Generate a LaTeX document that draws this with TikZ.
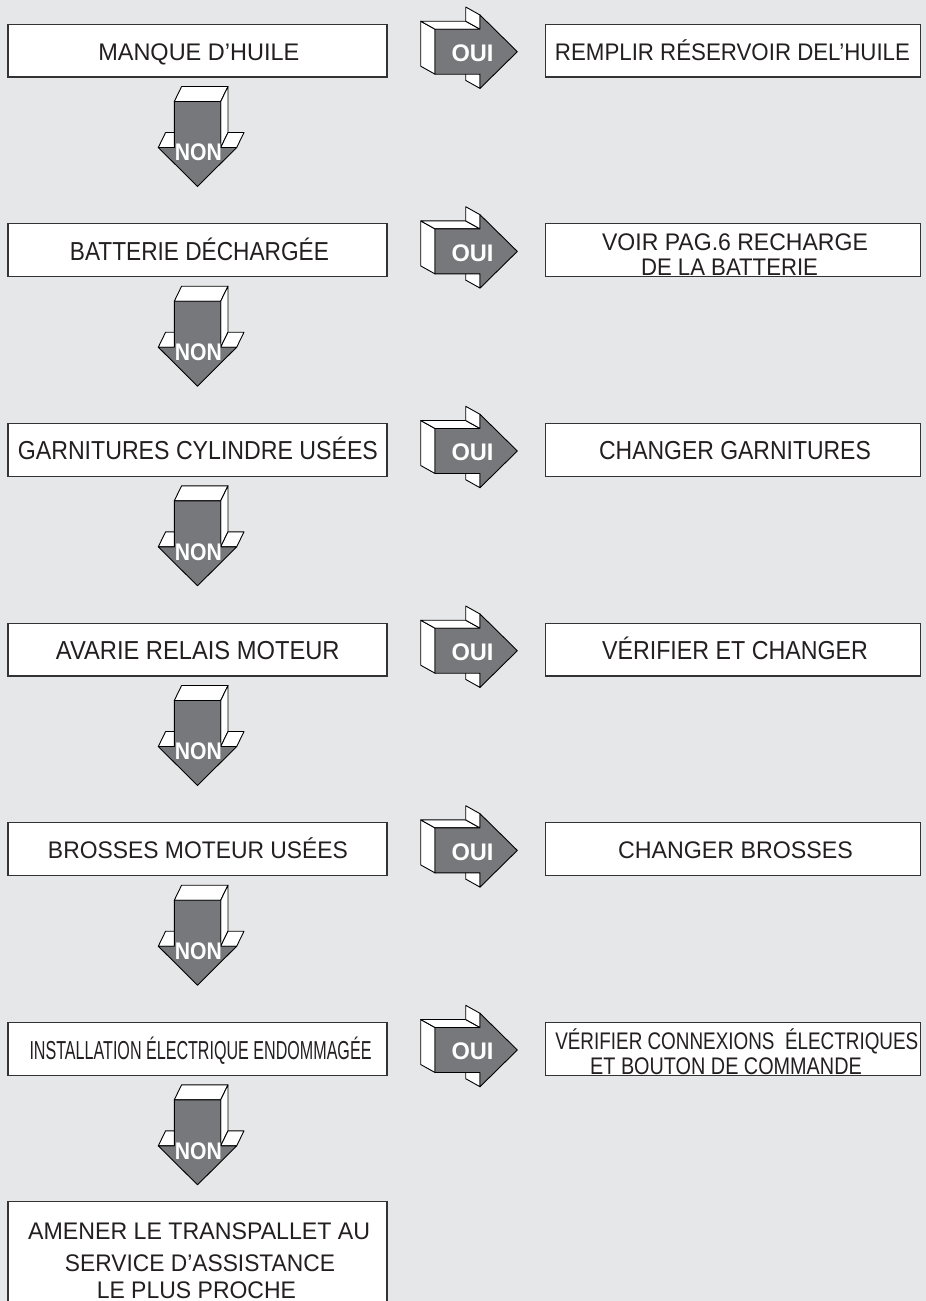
\documentclass[tikz,border=0pt]{standalone}
\usepackage{fontspec}
\setmainfont{Liberation Sans}
\usepackage{graphicx}
\definecolor{bg}{HTML}{E6E7E8}
\definecolor{agray}{HTML}{77787B}
\definecolor{edgec}{HTML}{333333}
\definecolor{txt}{HTML}{231F20}
\newcommand\fw[2]{\resizebox{#1pt}{\height}{#2}}
\tikzset{
  box/.style={draw=edgec, line width=1.2pt, fill=white},
  face/.style={draw=black, line width=0.9pt, fill=white, line join=round},
  front/.style={draw=black, line width=0.9pt, fill=agray, line join=round},
  lbl/.style={font=\fontsize{24}{28}\selectfont, text=txt, inner sep=0pt, anchor=base},
  clbl/.style={font=\fontsize{26}{30}\selectfont, text=txt, inner sep=0pt, anchor=base},
  albl/.style={font=\fontsize{24}{28}\selectfont\bfseries, text=white, inner sep=0pt, anchor=base},
  pics/oui/.style={code={
    \path[face] (0,-22.5) -- (0,22.5) -- (-14.3,14.5) -- (-14.3,-30.5) -- cycle;
    \path[face] (0,-22.5) -- (45,-22.5) -- (30.7,-30.5) -- (-14.3,-30.5) -- cycle;
    \path[face] (45,-36.7) -- (45,-22.5) -- (30.7,-30.5) -- (30.7,-44.7) -- cycle;
    \path[face] (45,22.5) -- (45,36.7) -- (30.7,28.7) -- (30.7,14.5) -- cycle;
    \path[front] (0,-22.5) -- (45,-22.5) -- (45,-36.7) -- (82.3,0) -- (45,36.7) -- (45,22.5) -- (0,22.5) -- cycle;
    \node[albl] (-t) at (37.5,9.6) {\fw{42}{OUI}};
  }},
  pics/non/.style={code={
    \path[face] (-23.2,0) -- (23.2,0) -- (30.5,-15) -- (-15.9,-15) -- cycle;
    \path[face] (23.2,0) -- (23.2,46) -- (30.5,31) -- (30.5,-15) -- cycle;
    \path[face] (23.2,46) -- (39.2,46) -- (46.5,31) -- (30.5,31) -- cycle;
    \path[face] (-39.2,46) -- (-23.2,46) -- (-15.9,31) -- (-31.9,31) -- cycle;
    \path[front] (-23.2,0) -- (23.2,0) -- (23.2,46) -- (39.2,46) -- (0,85) -- (-39.2,46) -- (-23.2,46) -- cycle;
    \node[albl] (-t) at (0.8,59.3) {\fw{47}{NON}};
  }}
}
\begin{document}
\begin{tikzpicture}[x=1pt,y=-1pt]
\useasboundingbox[fill=bg] (0,0) rectangle (926,1301);
% rows
\foreach \k/\c in {1/50.5,2/250.2,3/449.8,4/649.5,5/849.2,6/1048.8}{
  \path[box] (8,\c-26.4) rectangle (387,\c+26.4);
  \path[box] (545.5,\c-26.4) rectangle (920.5,\c+26.4);
  \pic (oui\k) at (435,\c+1.2) {oui};
  \pic (non\k) at (197.5,\c+51) {non};
}
% left labels
\node[lbl] (l1) at (198.8,50.5+9.6) {\fw{201}{MANQUE D’HUILE}};
\node[clbl] (l2) at (199.4,250.2+10) {\fw{259}{BATTERIE DÉCHARGÉE}};
\node[clbl] (l3) at (197.9,449.8+10) {\fw{360}{GARNITURES CYLINDRE USÉES}};
\node[clbl] (l4) at (197.8,649.5+10) {\fw{283.6}{AVARIE RELAIS MOTEUR}};
\node[lbl] (l5) at (198,849.2+9.6) {\fw{300}{BROSSES MOTEUR USÉES}};
\node[clbl] (l6) at (200.5,1048.8+11) {\fw{342}{INSTALLATION ÉLECTRIQUE ENDOMMAGÉE}};
% right labels
\node[lbl] (r1) at (732.5,50.5+9.6) {\fw{355}{REMPLIR RÉSERVOIR DEL’HUILE}};
\node[lbl] (r2a) at (735,250.2+0.3) {\fw{265.8}{VOIR PAG.6 RECHARGE}};
\node[lbl] (r2b) at (729.5,250.2+25.6) {\fw{177}{DE LA BATTERIE}};
\node[clbl] (r3) at (735,449.8+10) {\fw{271.7}{CHANGER GARNITURES}};
\node[clbl] (r4) at (735,649.5+10) {\fw{265.8}{VÉRIFIER ET CHANGER}};
\node[lbl] (r5) at (735.5,849.2+9.6) {\fw{235}{CHANGER BROSSES}};
\node[lbl] (r6a) at (736.8,1048.8+0.3) {\fw{363}{VÉRIFIER CONNEXIONS\ \ ÉLECTRIQUES}};
\node[lbl] (r6b) at (726,1048.8+25.6) {\fw{271.6}{ET BOUTON DE COMMANDE}};
% final box
\path[box] (8,1201.7) rectangle (387,1330);
\node[lbl] (f1) at (199.2,1239.5) {\fw{342}{AMENER LE TRANSPALLET AU}};
\node[lbl] (f2) at (200,1271.5) {\fw{270}{SERVICE D’ASSISTANCE}};
\node[lbl] (f3) at (196.4,1298.5) {\fw{199.3}{LE PLUS PROCHE}};
\end{tikzpicture}
\end{document}
